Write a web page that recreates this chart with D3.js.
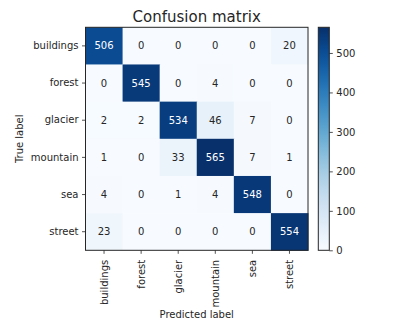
<!DOCTYPE html>
<html>
<head>
<meta charset="utf-8">
<script src="https://cdnjs.cloudflare.com/ajax/libs/d3/7.8.5/d3.min.js"></script>
<style>
  html, body { margin: 0; padding: 0; background: #fff; }
  svg text { font-family: "DejaVu Sans", sans-serif; fill: #262626; }
</style>
</head>
<body>
<svg id="chart" width="420" height="328"></svg>
<script>
// Class names (true label rows / predicted label columns)
const classes = ["buildings", "forest", "glacier", "mountain", "sea", "street"];

// Confusion matrix counts, one array per true class
const rowBuildings = [506, 0, 0, 0, 0, 20];
const rowForest    = [0, 545, 0, 4, 0, 0];
const rowGlacier   = [2, 2, 534, 46, 7, 0];
const rowMountain  = [1, 0, 33, 565, 7, 1];
const rowSea       = [4, 0, 1, 4, 548, 0];
const rowStreet    = [23, 0, 0, 0, 0, 554];
const matrix = [rowBuildings, rowForest, rowGlacier, rowMountain, rowSea, rowStreet];

// Colorbar ticks
const colorbarTicks = [0, 100, 200, 300, 400, 500];

const svg = d3.select("#chart");

const plot = { left: 85.5, top: 27.3, width: 222.5, height: 223 };
const cbar = { left: 318.3, top: 27.3, width: 11, height: 223 };

const vmax = d3.max(matrix.flat());
const color = d3.scaleSequential(d3.interpolateBlues).domain([0, vmax]);

const x = d3.scaleBand().domain(classes).range([plot.left, plot.left + plot.width]);
const y = d3.scaleBand().domain(classes).range([plot.top, plot.top + plot.height]);

const cells = [];
matrix.forEach((row, i) => row.forEach((v, j) => cells.push({ t: classes[i], p: classes[j], v })));

// Heatmap cells
svg.append("g").selectAll("rect").data(cells).join("rect")
  .attr("x", d => x(d.p))
  .attr("y", d => y(d.t))
  .attr("width", x.bandwidth() + 0.5)
  .attr("height", y.bandwidth() + 0.5)
  .attr("fill", d => color(d.v));

// Cell annotations: white on dark cells, dark on light ones
const thresh = vmax / 2;
svg.append("g").selectAll("text").data(cells).join("text")
  .attr("x", d => x(d.p) + x.bandwidth() / 2)
  .attr("y", d => y(d.t) + y.bandwidth() / 2)
  .attr("text-anchor", "middle")
  .attr("dominant-baseline", "central")
  .style("font-size", "10px")
  .style("fill", d => d.v > thresh ? "#fff" : "#262626")
  .text(d => d.v);

// Axes
const xAxis = svg.append("g")
  .attr("transform", `translate(0,${plot.top + plot.height})`)
  .call(d3.axisBottom(x).tickSize(3.5).tickPadding(3.5));
xAxis.selectAll("text")
  .style("font-size", "10px")
  .attr("transform", "rotate(-90)")
  .attr("x", -9.5)
  .attr("y", 0)
  .attr("dy", "0.35em")
  .attr("text-anchor", "end");

const yAxis = svg.append("g")
  .attr("transform", `translate(${plot.left},0)`)
  .call(d3.axisLeft(y).tickSize(3.5).tickPadding(3.5));
yAxis.selectAll("text").style("font-size", "10px");

[xAxis, yAxis].forEach(a => {
  a.select(".domain").remove();
  a.selectAll(".tick line").attr("stroke", "#262626").attr("stroke-width", 0.8);
});

// Frame
svg.append("rect")
  .attr("x", plot.left).attr("y", plot.top)
  .attr("width", plot.width).attr("height", plot.height)
  .attr("fill", "none").attr("stroke", "#262626").attr("stroke-width", 1);

// Title and axis labels
svg.append("text")
  .attr("x", plot.left + plot.width / 2).attr("y", 22)
  .attr("text-anchor", "middle")
  .style("font-size", "15px")
  .text("Confusion matrix");

svg.append("text")
  .attr("transform", `translate(23,${plot.top + plot.height / 2}) rotate(-90)`)
  .attr("text-anchor", "middle")
  .style("font-size", "10px")
  .text("True label");

svg.append("text")
  .attr("x", plot.left + plot.width / 2).attr("y", 318)
  .attr("text-anchor", "middle")
  .style("font-size", "10px")
  .text("Predicted label");

// Colorbar
const defs = svg.append("defs");
const grad = defs.append("linearGradient").attr("id", "cbgrad")
  .attr("x1", 0).attr("y1", 1).attr("x2", 0).attr("y2", 0);
d3.range(0, 1.0001, 0.05).forEach(t => {
  grad.append("stop").attr("offset", t).attr("stop-color", color(t * vmax));
});
svg.append("rect")
  .attr("x", cbar.left).attr("y", cbar.top)
  .attr("width", cbar.width).attr("height", cbar.height)
  .attr("fill", "url(#cbgrad)")
  .attr("stroke", "#262626").attr("stroke-width", 1);

const cscale = d3.scaleLinear().domain([0, vmax]).range([cbar.top + cbar.height, cbar.top]);
const cAxis = svg.append("g")
  .attr("transform", `translate(${cbar.left + cbar.width},0)`)
  .call(d3.axisRight(cscale).tickValues(colorbarTicks).tickSize(3.5).tickPadding(3.5));
cAxis.select(".domain").remove();
cAxis.selectAll(".tick line").attr("stroke", "#262626").attr("stroke-width", 0.8);
cAxis.selectAll("text").style("font-size", "10px");
</script>
</body>
</html>
